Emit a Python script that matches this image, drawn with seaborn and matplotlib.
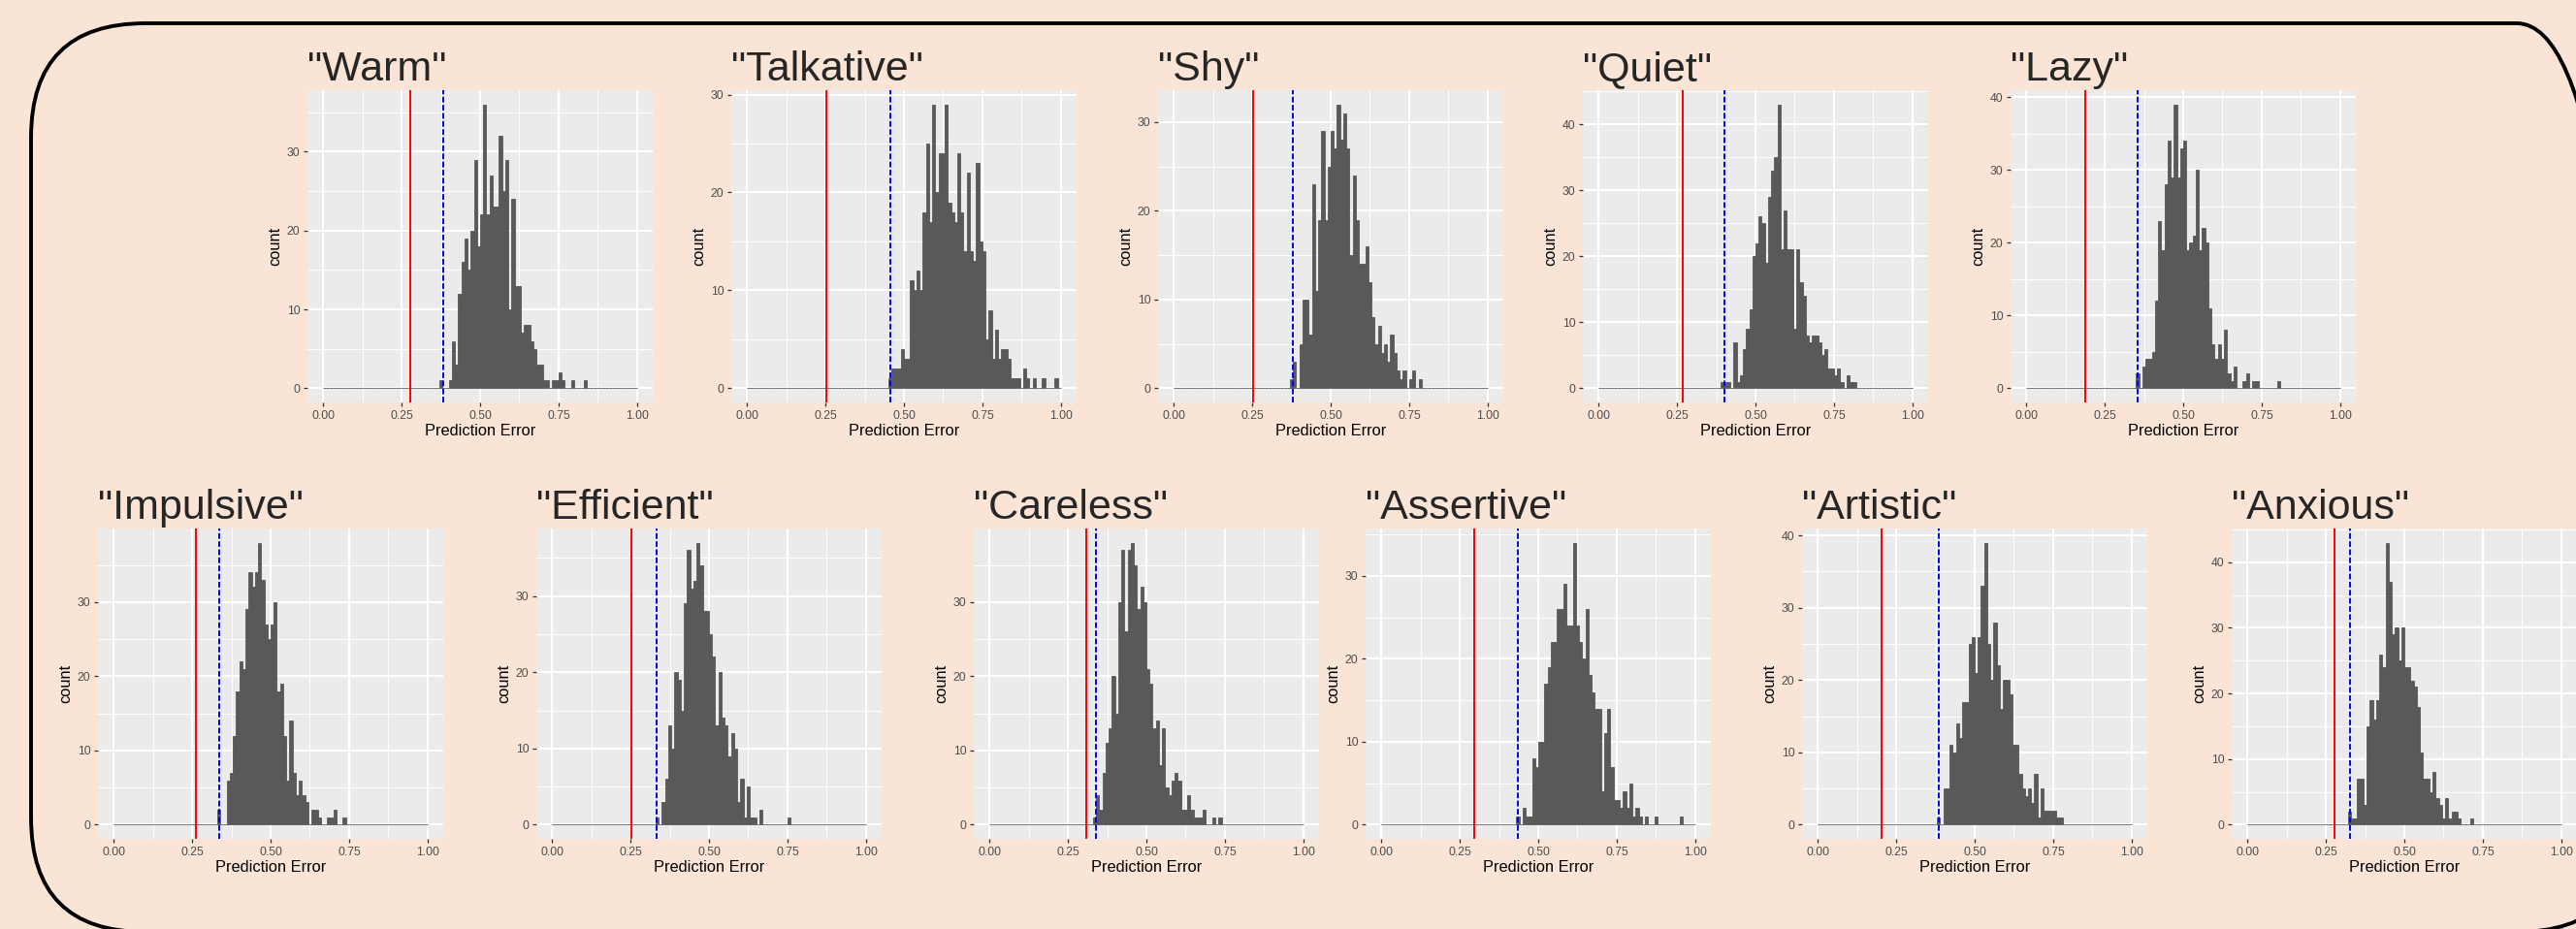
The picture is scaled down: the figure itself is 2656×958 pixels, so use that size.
import numpy as np
import pandas as pd
import matplotlib
matplotlib.use("Agg")
import matplotlib.pyplot as plt
import seaborn as sns
from matplotlib.patches import FancyBboxPatch
from matplotlib.transforms import IdentityTransform
from matplotlib.ticker import MultipleLocator, FixedLocator

# --- data (counts per 0.01-wide bin, starting at *_start) ---
traits = ["Warm", "Talkative", "Shy", "Quiet", "Lazy",
          "Impulsive", "Efficient", "Careless", "Assertive", "Artistic", "Anxious"]

# solid red line and dashed blue line per panel
red_lines = [0.276, 0.252, 0.254, 0.268, 0.188, 0.263, 0.253, 0.308, 0.295, 0.202, 0.279]
blue_lines = [0.383, 0.458, 0.380, 0.400, 0.354, 0.336, 0.332, 0.339, 0.435, 0.386, 0.326]

warm_start = 0.37
warm_counts = [1, 0, 0, 1, 6, 3, 12, 16, 19, 15, 20, 29, 18, 22, 36, 22, 27, 23, 23, 32,
               25, 29, 10, 24, 13, 13, 7, 8, 8, 6, 5, 3, 3, 1, 1, 0, 1, 1, 2, 1,
               0, 0, 1, 0, 0, 0, 1]

talkative_start = 0.45
talkative_counts = [1, 2, 2, 2, 4, 3, 3, 11, 10, 12, 10, 18, 25, 17, 29, 20, 24, 24, 29, 19,
                    18, 17, 24, 18, 14, 22, 14, 13, 23, 15, 14, 5, 8, 3, 6, 3, 4, 4, 3, 1,
                    1, 1, 0, 2, 1, 0, 1, 0, 0, 1, 0, 0, 0, 1]

shy_start = 0.37
shy_counts = [1, 3, 0, 5, 10, 10, 6, 23, 11, 19, 29, 19, 25, 29, 27, 32, 28, 31, 27, 15,
              24, 19, 14, 14, 16, 12, 8, 5, 7, 4, 5, 3, 6, 4, 2, 1, 2, 0, 1, 2,
              0, 1]

quiet_start = 0.39
quiet_counts = [1, 1, 1, 0, 7, 1, 2, 6, 9, 12, 20, 22, 26, 25, 19, 29, 33, 35, 43, 21,
                27, 21, 21, 9, 21, 16, 14, 8, 7, 8, 8, 7, 5, 6, 3, 3, 2, 3, 1, 0,
                2, 1, 1]

lazy_start = 0.35
lazy_counts = [2, 0, 3, 4, 4, 5, 12, 23, 19, 28, 34, 29, 39, 29, 33, 34, 19, 20, 21, 30,
               19, 22, 20, 11, 6, 4, 6, 4, 8, 2, 1, 3, 0, 0, 1, 2, 0, 1, 1, 0,
               0, 0, 0, 0, 0, 1]

impulsive_start = 0.33
impulsive_counts = [2, 0, 0, 6, 7, 12, 18, 22, 21, 29, 34, 32, 34, 38, 33, 27, 25, 27, 30, 18,
                    19, 12, 6, 14, 7, 4, 6, 4, 3, 0, 2, 2, 1, 0, 0, 1, 1, 2, 0, 0,
                    1]

efficient_start = 0.33
efficient_counts = [1, 0, 3, 6, 13, 10, 20, 19, 15, 29, 36, 31, 32, 37, 34, 28, 28, 25, 22, 13,
                    20, 14, 13, 9, 12, 10, 3, 6, 1, 5, 1, 1, 0, 2, 0, 0, 0, 0, 0, 0,
                    0, 0, 1]

careless_start = 0.33
careless_counts = [1, 4, 2, 7, 11, 13, 20, 15, 30, 37, 26, 37, 38, 35, 29, 32, 30, 21, 19, 13,
                   14, 8, 13, 5, 4, 6, 7, 6, 2, 2, 4, 2, 1, 1, 1, 2, 0, 0, 1, 0,
                   1]

assertive_start = 0.43
assertive_counts = [1, 0, 2, 1, 1, 8, 7, 10, 10, 17, 19, 22, 22, 26, 26, 29, 24, 24, 34, 24,
                    22, 20, 26, 18, 16, 14, 14, 4, 11, 14, 7, 3, 3, 2, 4, 2, 5, 1, 2, 1,
                    0, 1, 0, 0, 1, 0, 0, 0, 0, 0, 0, 0, 1]

artistic_start = 0.38
artistic_counts = [1, 0, 5, 5, 11, 10, 14, 12, 17, 17, 25, 26, 21, 26, 33, 39, 25, 20, 28, 22,
                   16, 20, 20, 18, 11, 11, 7, 5, 4, 5, 3, 7, 1, 5, 2, 2, 2, 2, 1, 1]

anxious_start = 0.32
anxious_counts = [2, 1, 1, 7, 7, 3, 15, 19, 16, 19, 26, 24, 43, 37, 29, 30, 25, 30, 24, 24,
                  22, 21, 18, 11, 7, 7, 5, 8, 4, 3, 1, 4, 1, 2, 2, 1, 0, 0, 0, 1]

starts = [warm_start, talkative_start, shy_start, quiet_start, lazy_start,
          impulsive_start, efficient_start, careless_start, assertive_start,
          artistic_start, anxious_start]
all_counts = [warm_counts, talkative_counts, shy_counts, quiet_counts, lazy_counts,
              impulsive_counts, efficient_counts, careless_counts, assertive_counts,
              artistic_counts, anxious_counts]

x_ticks = [0, 0.25, 0.5, 0.75, 1.0]
x_labels = ["0.00", "0.25", "0.50", "0.75", "1.00"]

# --- layout (pixels in the 2656x958 canvas) ---
W, H = 2656, 958
lefts = [317, 754, 1194, 1632, 2073, 101, 553, 1004, 1408, 1858, 2301]
tops = [93] * 5 + [545] * 6
pw = 356
phs = [322] * 5 + [320] * 6

bg = "#FAE4D6"

sns.set_style("darkgrid", {"axes.facecolor": "#EBEBEB", "grid.color": "white",
                           "axes.edgecolor": "#EBEBEB"})
plt.rcParams["font.family"] = ["Liberation Sans", "DejaVu Sans"]

fig = plt.figure(figsize=(W / 100, H / 100), dpi=100)
fig.patch.set_facecolor(bg)

edges = [round(e, 2) for e in np.linspace(0, 1, 101)]
centers = [e + 0.005 for e in edges[:-1]]

for i, trait in enumerate(traits):
    counts = all_counts[i]
    heights = np.zeros(100)
    k = int(round(starts[i] * 100))
    heights[k:k + len(counts)] = counts
    df = pd.DataFrame({"err": centers, "n": heights})

    ph = phs[i]
    ax = fig.add_axes([lefts[i] / W, 1 - (tops[i] + ph) / H, pw / W, ph / H])
    ax.set_axisbelow(True)

    sns.histplot(data=df, x="err", weights="n", bins=edges, color="#595959",
                 alpha=1, edgecolor="#595959", linewidth=0.6, ax=ax)

    ax.axvline(red_lines[i], color="red", lw=1.4)
    ax.axvline(blue_lines[i], color="blue", lw=1.4, ls=(0, (3, 1.3)))

    ymax = max(counts)
    ax.set_xlim(-0.05, 1.05)
    ax.set_ylim(-0.05 * ymax, 1.05 * ymax)
    ax.xaxis.set_major_locator(FixedLocator(x_ticks))
    ax.set_xticklabels(x_labels)
    ax.set_yticks(np.arange(0, 1.05 * ymax, 10))
    ax.xaxis.set_minor_locator(MultipleLocator(0.125))
    ax.yaxis.set_minor_locator(MultipleLocator(5))
    ax.grid(which="major", color="white", lw=1.45)
    ax.grid(which="minor", color="white", lw=0.7)
    for s in ax.spines.values():
        s.set_visible(False)

    ax.tick_params(which="major", length=3, width=0.9, color="#333333",
                   labelsize=8.7, labelcolor="#4D4D4D", pad=2.5,
                   bottom=True, left=True)
    ax.tick_params(which="minor", length=0)
    ax.set_xlabel("Prediction Error", fontsize=11.8, color="black", labelpad=2)
    ax.set_ylabel("count", fontsize=11.8, color="black", labelpad=3)
    ax.set_title(f'"{trait}"', loc="left", fontsize=31, pad=7)

# rounded frame around the collage
frame = FancyBboxPatch((32, H - 961), 2713 - 32, 961 - 24,
                       boxstyle="round,pad=0,rounding_size=118",
                       transform=IdentityTransform(), fill=False,
                       lw=2.8, ec="black")
fig.add_artist(frame)

fig.savefig("out.png", dpi=100, facecolor=bg)
